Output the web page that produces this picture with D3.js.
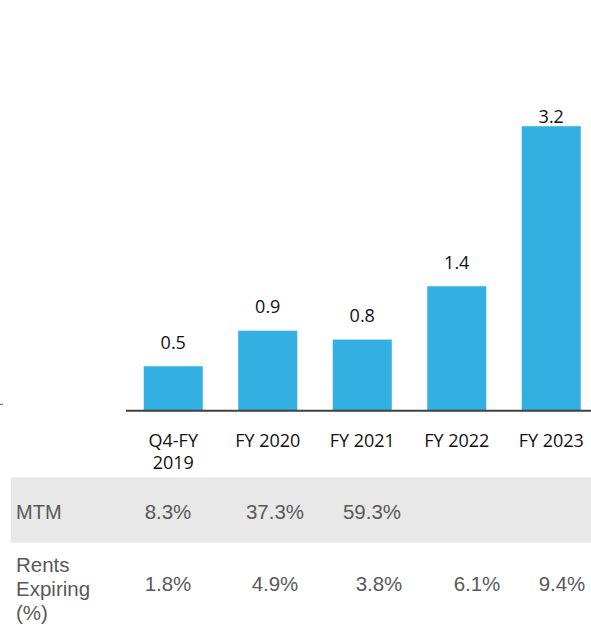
<!DOCTYPE html>
<html>
<head>
<meta charset="utf-8">
<script src="https://cdn.jsdelivr.net/npm/d3@7"></script>
<style>
  html, body { margin: 0; padding: 0; background: #fff; }
  svg { display: block; }
</style>
</head>
<body>
<div id="chart"></div>
<script>
// chart data
const categories = ['Q4-FY 2019', 'FY 2020', 'FY 2021', 'FY 2022', 'FY 2023'];
const categoryLines = [['Q4-FY', '2019'], ['FY 2020'], ['FY 2021'], ['FY 2022'], ['FY 2023']];
const values = [0.5, 0.9, 0.8, 1.4, 3.2];
const valueLabels = ['0.5', '0.9', '0.8', '1.4', '3.2'];

// table rows under the chart
const mtmLabel = ['MTM'];
const mtmValues = ['8.3%', '37.3%', '59.3%'];
const rentsLabel = ['Rents', 'Expiring', '(%)'];
const rentsValues = ['1.8%', '4.9%', '3.8%', '6.1%', '9.4%'];

const width = 591, height = 625;
const baseline = 410.7;
const pxPerUnit = 88.9;

const svg = d3.select('#chart').append('svg')
  .attr('width', width)
  .attr('height', height);

const x = d3.scaleBand()
  .domain(categories)
  .range([126, 126 + 5 * 94.5])
  .paddingInner(0.375)
  .paddingOuter(0.1875);

const y = d3.scaleLinear()
  .domain([0, 4])
  .range([baseline, baseline - 4 * pxPerUnit]);

// bars
svg.append('g')
  .selectAll('rect')
  .data(values)
  .join('rect')
  .attr('x', (d, i) => x(categories[i]))
  .attr('y', d => y(d))
  .attr('width', x.bandwidth())
  .attr('height', d => y(0) - y(d))
  .attr('fill', '#33b0e1');

// value labels (top one is squeezed against the plot edge)
svg.append('g')
  .selectAll('text')
  .data(values)
  .join('text')
  .attr('x', (d, i) => x(categories[i]) + x.bandwidth() / 2)
  .attr('y', d => Math.max(y(d) - 17.4, 123.3))
  .attr('text-anchor', 'middle')
  .attr('font-family', 'Open Sans, sans-serif')
  .attr('font-size', 18)
  .attr('fill', '#111')
  .text((d, i) => valueLabels[i]);

// baseline axis
const xAxis = d3.axisBottom(x).tickSize(0).tickFormat('');
svg.append('g')
  .attr('transform', `translate(0,${baseline})`)
  .call(xAxis)
  .call(g => g.select('.domain')
    .attr('d', `M126,0H${width}`)
    .attr('stroke', '#404040')
    .attr('stroke-width', 2));

// category labels
const cat = svg.append('g')
  .selectAll('text')
  .data(categories)
  .join('text')
  .attr('text-anchor', 'middle')
  .attr('font-family', 'Open Sans, sans-serif')
  .attr('font-size', 18)
  .attr('fill', '#111');
cat.each(function(d, i) {
  const t = d3.select(this);
  categoryLines[i].forEach((line, j) => {
    t.append('tspan')
      .attr('x', x(d) + x.bandwidth() / 2)
      .attr('y', 446.7 + j * 22.6)
      .text(line);
  });
});

// stray tick on the left edge
svg.append('line')
  .attr('x1', 0).attr('x2', 3)
  .attr('y1', 404.3).attr('y2', 404.3)
  .attr('stroke', '#595959')
  .attr('stroke-width', 1);

// table
const tableFont = 'Liberation Sans, Arial, sans-serif';
const tableColor = '#595959';
const mtmCols = [168, 275, 372];
const rentsCols = [168, 275, 379, 477, 562];

svg.append('rect')
  .attr('x', 11).attr('y', 477.3)
  .attr('width', width - 11).attr('height', 65.4)
  .attr('fill', '#e8e8e8');

svg.append('text')
  .attr('x', 16).attr('y', 519.3)
  .attr('font-family', tableFont).attr('font-size', 20)
  .attr('fill', tableColor)
  .text(mtmLabel[0]);

svg.append('g')
  .selectAll('text')
  .data(mtmValues)
  .join('text')
  .attr('x', (d, i) => mtmCols[i])
  .attr('y', 519.3)
  .attr('text-anchor', 'middle')
  .attr('font-family', tableFont).attr('font-size', 20.5)
  .attr('fill', tableColor)
  .text(d => d);

svg.append('g')
  .selectAll('text')
  .data(rentsLabel)
  .join('text')
  .attr('x', 16)
  .attr('y', (d, i) => 571.5 + i * 24)
  .attr('font-family', tableFont).attr('font-size', 20.5)
  .attr('fill', tableColor)
  .text(d => d);

svg.append('g')
  .selectAll('text')
  .data(rentsValues)
  .join('text')
  .attr('x', (d, i) => rentsCols[i])
  .attr('y', 590.7)
  .attr('text-anchor', 'middle')
  .attr('font-family', tableFont).attr('font-size', 20.5)
  .attr('fill', tableColor)
  .text(d => d);
</script>
</body>
</html>
